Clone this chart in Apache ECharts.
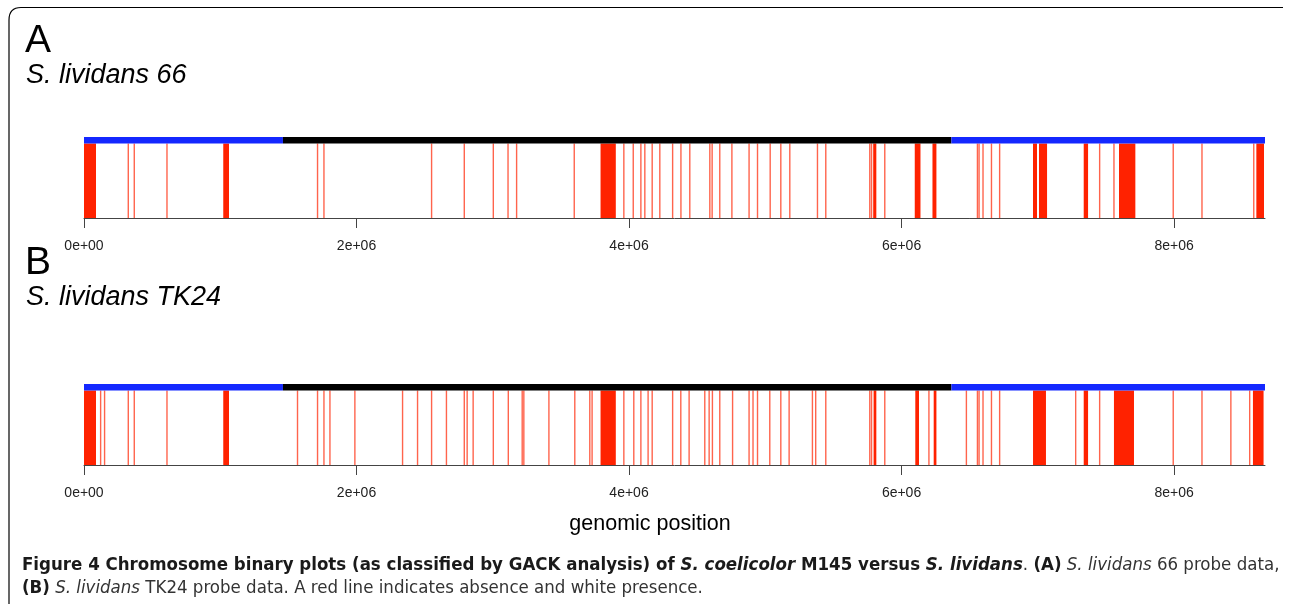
<!DOCTYPE html>
<html><head><meta charset="utf-8">
<script src="https://cdn.jsdelivr.net/npm/echarts@6/dist/echarts.min.js"></script>
<style>html,body{margin:0;padding:0;background:#fff}#c{width:1290px;height:604px}</style>
</head><body><div id="c"></div>
<script>
// genome length (S. coelicolor M145 chromosome, bp)
const genomeLength = 8667507;
const xTicks = [0, 2e6, 4e6, 6e6, 8e6];
const tickLabels = ['0e+00', '2e+06', '4e+06', '6e+06', '8e+06'];
// band segments: [start, end, kind] kind 0 = arm (blue), 1 = core (black)
const bandSegments = [[0, 1.46e6, 0], [1.46e6, 6.366e6, 1], [6.366e6, 8667507, 0]];
// absence regions [start, end] for S. lividans 66
const absA = [
 [0,0.088e6],[0.325e6,0.325e6],[0.369e6,0.369e6],[0.609e6,0.609e6],[1.022e6,1.064e6],
 [1.714e6,1.714e6],[1.761e6,1.761e6],[2.551e6,2.551e6],[2.791e6,2.791e6],[3.004e6,3.004e6],
 [3.112e6,3.118e6],[3.175e6,3.175e6],[3.598e6,3.607e6],[3.791e6,3.903e6],[3.962e6,3.962e6],
 [4.031e6,4.031e6],[4.087e6,4.087e6],[4.116e6,4.116e6],[4.170e6,4.170e6],[4.226e6,4.226e6],
 [4.320e6,4.328e6],[4.381e6,4.389e6],[4.446e6,4.446e6],[4.593e6,4.593e6],[4.610e6,4.610e6],
 [4.666e6,4.666e6],[4.755e6,4.763e6],[4.881e6,4.881e6],[4.943e6,4.950e6],[5.036e6,5.045e6],
 [5.114e6,5.114e6],[5.180e6,5.180e6],[5.383e6,5.383e6],[5.444e6,5.444e6],[5.767e6,5.767e6],
 [5.780e6,5.780e6],[5.792e6,5.815e6],[5.877e6,5.877e6],[6.097e6,6.139e6],[6.227e6,6.256e6],
 [6.557e6,6.557e6],[6.569e6,6.569e6],[6.598e6,6.598e6],[6.660e6,6.660e6],[6.720e6,6.720e6],
 [6.965e6,6.994e6],[7.009e6,7.068e6],[7.337e6,7.369e6],[7.454e6,7.454e6],[7.559e6,7.559e6],
 [7.596e6,7.716e6],[7.994e6,7.994e6],[8.205e6,8.205e6],[8.585e6,8.585e6],[8.604e6,8.660e6]
];
// absence regions [start, end] for S. lividans TK24
const absB = [
 [0,0.088e6],[0.122e6,0.122e6],[0.151e6,0.151e6],[0.325e6,0.325e6],[0.369e6,0.369e6],
 [0.609e6,0.609e6],[1.022e6,1.064e6],[1.567e6,1.567e6],[1.714e6,1.714e6],[1.761e6,1.761e6],
 [1.805e6,1.805e6],[1.988e6,1.988e6],[2.338e6,2.338e6],[2.448e6,2.448e6],[2.551e6,2.551e6],
 [2.660e6,2.660e6],[2.791e6,2.791e6],[2.812e6,2.812e6],[2.856e6,2.856e6],[3.004e6,3.004e6],
 [3.114e6,3.114e6],[3.216e6,3.216e6],[3.228e6,3.228e6],[3.412e6,3.412e6],[3.602e6,3.602e6],
 [3.712e6,3.712e6],[3.729e6,3.729e6],[3.791e6,3.903e6],[3.962e6,3.962e6],[4.035e6,4.035e6],
 [4.087e6,4.087e6],[4.140e6,4.140e6],[4.170e6,4.170e6],[4.320e6,4.328e6],[4.380e6,4.380e6],
 [4.441e6,4.441e6],[4.556e6,4.556e6],[4.588e6,4.588e6],[4.612e6,4.612e6],[4.666e6,4.666e6],
 [4.760e6,4.768e6],[4.881e6,4.881e6],[4.910e6,4.910e6],[4.943e6,4.951e6],[5.033e6,5.041e6],
 [5.114e6,5.114e6],[5.175e6,5.175e6],[5.346e6,5.346e6],[5.370e6,5.370e6],[5.444e6,5.444e6],
 [5.767e6,5.767e6],[5.780e6,5.780e6],[5.795e6,5.815e6],[5.877e6,5.877e6],[6.101e6,6.128e6],
 [6.201e6,6.201e6],[6.236e6,6.256e6],[6.476e6,6.476e6],[6.557e6,6.557e6],[6.569e6,6.569e6],
 [6.598e6,6.598e6],[6.660e6,6.660e6],[6.720e6,6.720e6],[6.965e6,7.060e6],[7.278e6,7.278e6],
 [7.337e6,7.369e6],[7.454e6,7.454e6],[7.559e6,7.706e6],[7.994e6,7.994e6],[8.205e6,8.205e6],
 [8.417e6,8.417e6],[8.555e6,8.555e6],[8.579e6,8.657e6]
];

const RED = 'rgb(255,34,0)';
const BAND_COLORS = ['#1428ff', '#000000'];
const BAND_BOTTOM = 0.92;

function renderAbs(params, api) {
  const p0 = api.coord([api.value(0), 0]);
  const p1 = api.coord([api.value(1), BAND_BOTTOM]);
  let x = p0[0], w = p1[0] - p0[0];
  const thin = w < 1.4;
  if (thin) { x -= 0.7; w = 1.4; }
  return {type: 'rect', shape: {x: x, y: p1[1], width: w, height: p0[1] - p1[1]},
    style: {fill: RED, opacity: thin ? 0.7 : 1}};
}
function renderBand(params, api) {
  const p0 = api.coord([api.value(0), BAND_BOTTOM]);
  const p1 = api.coord([api.value(1), 1]);
  return {type: 'rect', shape: {x: p0[0], y: p1[1], width: p1[0] - p0[0], height: p0[1] - p1[1]},
    style: {fill: BAND_COLORS[api.value(2)]}};
}
function xAxisDef(gi) {
  return {
    type: 'value', gridIndex: gi, min: 0, max: genomeLength, interval: 2e6,
    axisLine: {show: true, onZero: false, lineStyle: {color: '#444', width: 1}},
    axisTick: {show: true, length: 10, lineStyle: {color: '#444'}},
    axisLabel: {show: true, margin: 21, fontSize: 14, color: '#222', fontFamily: 'Liberation Sans',
      showMaxLabel: false,
      formatter: v => { const i = xTicks.indexOf(v); return i >= 0 ? tickLabels[i] : ''; }},
    splitLine: {show: false}
  };
}
function yAxisDef(gi) {
  return {type: 'value', gridIndex: gi, min: 0, max: 1, show: false};
}

const chart = echarts.init(document.getElementById('c'), null, {renderer: 'canvas'});
const cap1 = '{b|Figure 4 Chromosome binary plots (as classified by GACK analysis) of }{bi|S. coelicolor}{b| M145 versus }{bi|S. lividans}{r|. }{b|(A)}{i| S. lividans}{r| 66 probe data,}';
const cap2 = '{b|(B)}{i| S. lividans}{r| TK24 probe data. A red line indicates absence and white presence.}';
const capFont = "'Liberation Sans Narrow','DejaVu Sans Condensed',sans-serif";
const capSize = 18.5;
const richCap = {
  b: {fontFamily: capFont, fontSize: capSize, fontWeight: 'bold', fill: '#1a1a1a'},
  bi: {fontFamily: capFont, fontSize: capSize, fontWeight: 'bold', fontStyle: 'italic', fill: '#1a1a1a'},
  i: {fontFamily: capFont, fontSize: capSize, fontStyle: 'italic', fill: '#333'},
  r: {fontFamily: capFont, fontSize: capSize, fill: '#333'}
};
chart.setOption({
  animation: false,
  grid: [
    {left: 84, right: 25, top: 137, height: 81},
    {left: 84, right: 25, top: 384, height: 81}
  ],
  xAxis: [xAxisDef(0), xAxisDef(1)],
  yAxis: [yAxisDef(0), yAxisDef(1)],
  series: [
    {type: 'custom', xAxisIndex: 0, yAxisIndex: 0, renderItem: renderAbs, data: absA, encode: {x: [0, 1]}, clip: true},
    {type: 'custom', xAxisIndex: 0, yAxisIndex: 0, renderItem: renderBand, data: bandSegments, encode: {x: [0, 1]}},
    {type: 'custom', xAxisIndex: 1, yAxisIndex: 1, renderItem: renderAbs, data: absB, encode: {x: [0, 1]}, clip: true},
    {type: 'custom', xAxisIndex: 1, yAxisIndex: 1, renderItem: renderBand, data: bandSegments, encode: {x: [0, 1]}}
  ],
  graphic: [
    {type: 'polyline', shape: {points: [[9, 604], [9, 20]]}, style: {fill: null, stroke: '#000', lineWidth: 1.2}},
    {type: 'bezierCurve', shape: {x1: 9, y1: 20, x2: 21, y2: 7.5, cpx1: 9, cpy1: 7.5}, style: {fill: null, stroke: '#000', lineWidth: 1.2}},
    {type: 'line', shape: {x1: 21, y1: 7.5, x2: 1283, y2: 7.5}, style: {stroke: '#000', lineWidth: 1.2}},
    {type: 'text', left: 25, top: 22, style: {text: 'A', font: "39px 'Liberation Sans'", fill: '#000'}},
    {type: 'text', left: 26, top: 62, style: {text: 'S. lividans 66', font: "italic 27px 'Liberation Sans'", fill: '#000'}},
    {type: 'text', left: 25, top: 244, style: {text: 'B', font: "39px 'Liberation Sans'", fill: '#000'}},
    {type: 'text', left: 26, top: 284, style: {text: 'S. lividans TK24', font: "italic 27px 'Liberation Sans'", fill: '#000'}},
    {type: 'text', x: 650, y: 524, style: {text: 'genomic position', font: "21.5px 'Liberation Sans'", fill: '#000', align: 'center', verticalAlign: 'middle'}},
    {type: 'text', x: 22, y: 565, style: {text: cap1, rich: richCap, verticalAlign: 'middle'}},
    {type: 'text', x: 22, y: 588, style: {text: cap2, rich: richCap, verticalAlign: 'middle'}}
  ]
});
</script></body></html>
